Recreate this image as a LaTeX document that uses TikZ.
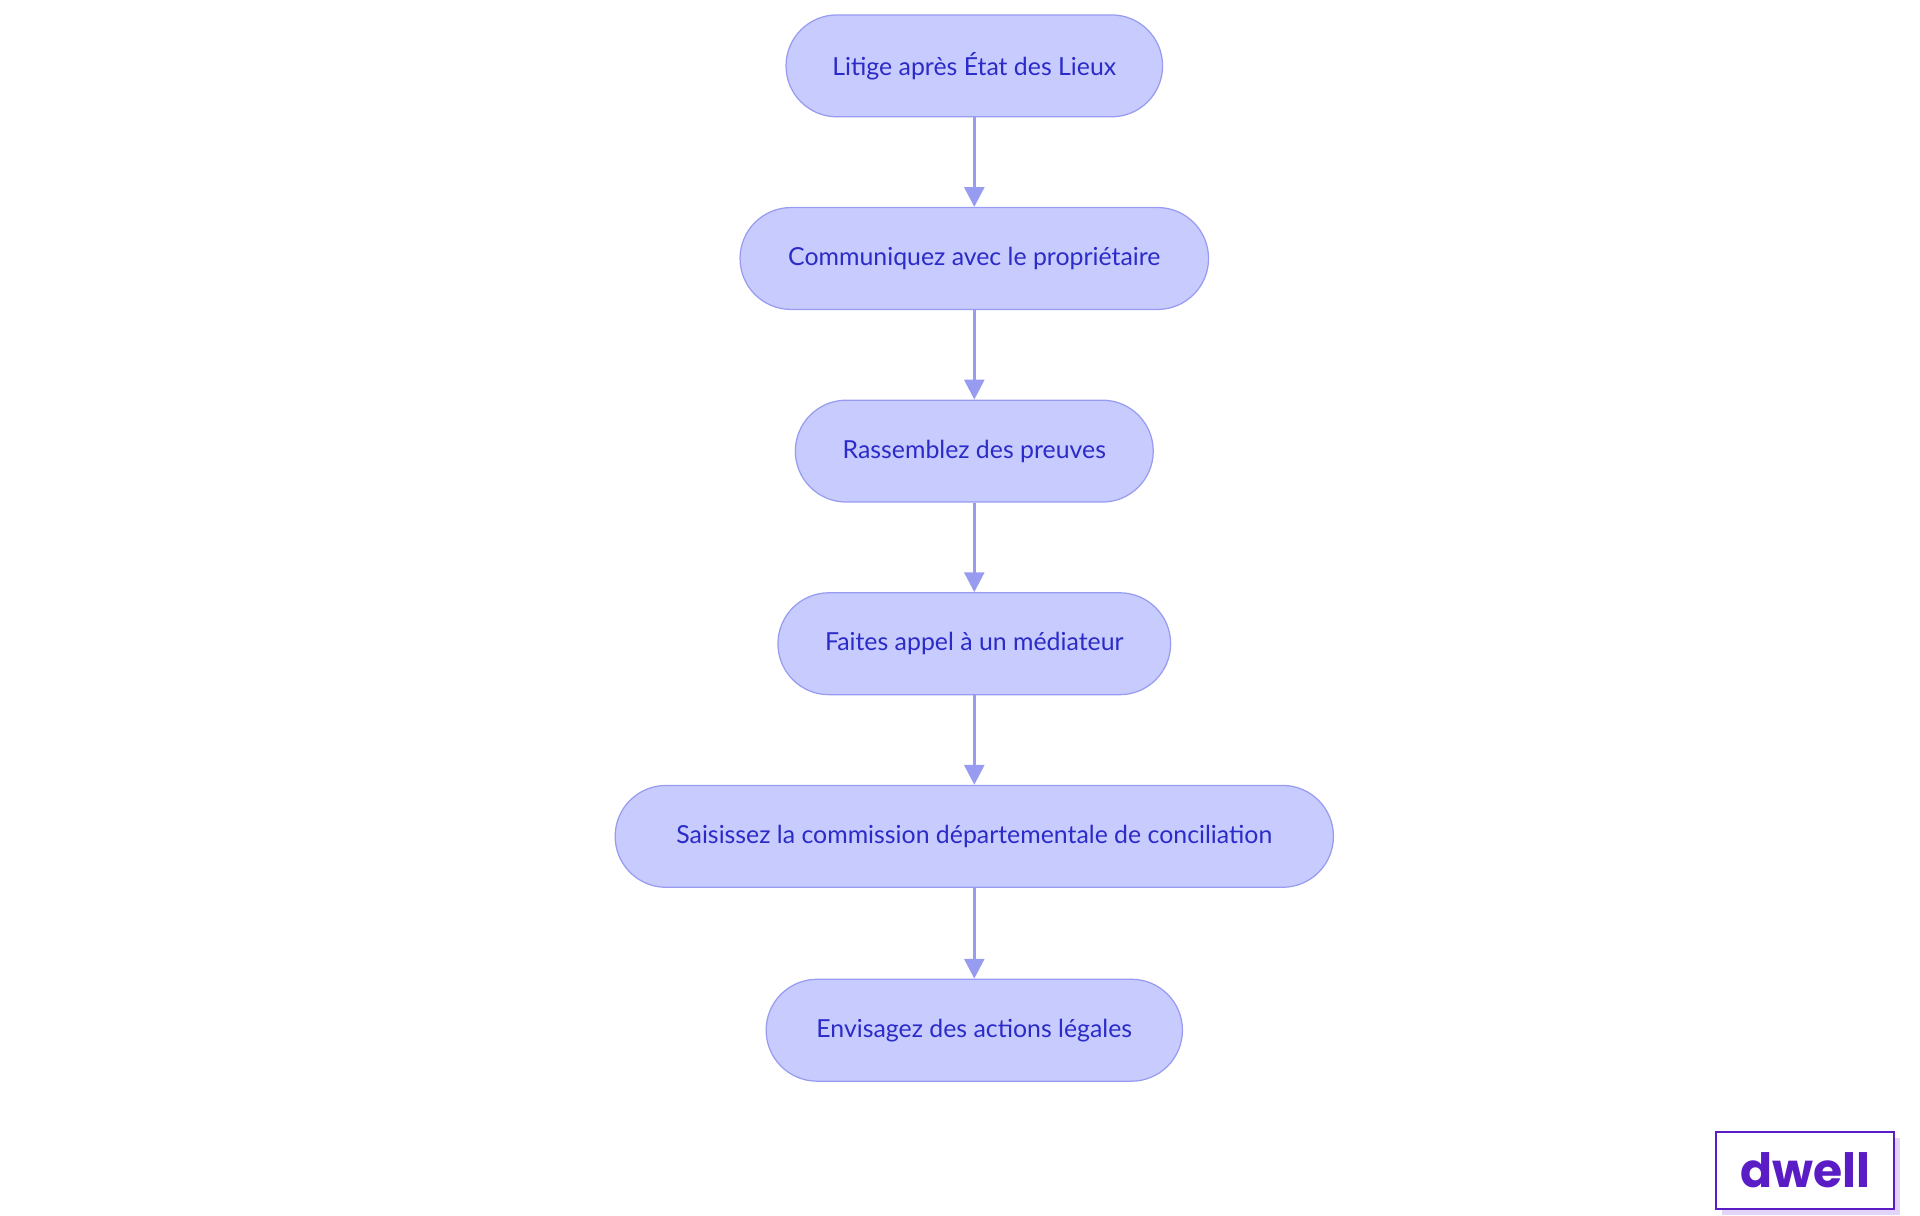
\documentclass[tikz,border=0pt]{standalone}
\usepackage{fontspec}
\setmainfont{Lato}
\newfontfamily\logofont{Poppins}
\usetikzlibrary{arrows.meta}
\definecolor{nfill}{HTML}{C8CBFD}
\definecolor{nline}{HTML}{989CF0}
\definecolor{ntext}{HTML}{2B2BC8}
\definecolor{logoc}{HTML}{5A1CC4}
\definecolor{logosh}{HTML}{E2D4FA}
\tikzset{
  stepbox/.style={draw=nline, line width=1pt, fill=nfill, rounded corners=41pt, minimum height=82pt, text=ntext, font=\fontsize{20}{24}\selectfont, inner xsep=0pt},
  conn/.style={draw=nline, line width=2.5pt, -{Triangle[length=16pt,width=16pt]}}
}
\begin{document}
\begin{tikzpicture}[x=1pt,y=-1pt]
\useasboundingbox (0,0) rectangle (1545,978);
\node[stepbox, minimum width=303pt] (a) at (784,53) {Litige après État des Lieux};
\node[stepbox, minimum width=377pt] (b) at (784,208) {Communiquez avec le propriétaire};
\node[stepbox, minimum width=288pt] (c) at (784,363) {Rassemblez des preuves};
\node[stepbox, minimum width=316pt] (d) at (784,518) {Faites appel à un médiateur};
\node[stepbox, minimum width=578pt] (e) at (784,673) {Saisissez la commission départementale de conciliation};
\node[stepbox, minimum width=335pt] (f) at (784,829) {Envisagez des actions légales};
\draw[conn] (a) -- (b);
\draw[conn] (b) -- (c);
\draw[conn] (c) -- (d);
\draw[conn] (d) -- (e);
\draw[conn] (e) -- (f);
\fill[logosh] (1386,916) rectangle (1529,978);
\node[draw=logoc, line width=1.5pt, fill=white, minimum width=143pt, minimum height=62pt, inner sep=0pt, text=logoc, font=\logofont\bfseries\fontsize{38}{40}\selectfont] (logo) at (1452.5,942) {dwell};
\end{tikzpicture}
\end{document}
